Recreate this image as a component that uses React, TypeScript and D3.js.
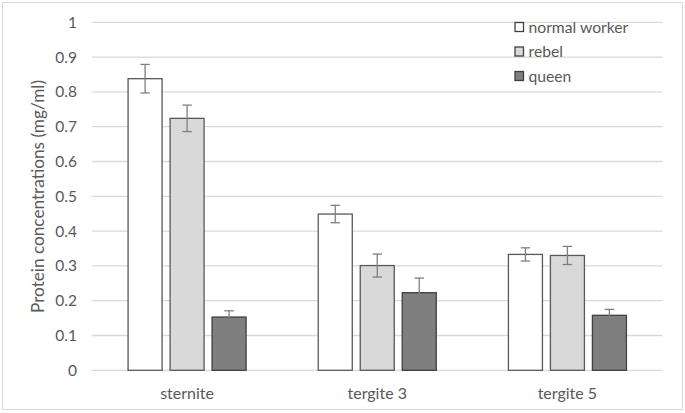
import React from "react";
import * as d3 from "d3";

const categories = ["sternite", "tergite 3", "tergite 5"];
const seriesNames = ["normal worker", "rebel", "queen"];
const normalWorker = [0.838, 0.449, 0.333];
const rebel = [0.724, 0.301, 0.33];
const queen = [0.153, 0.223, 0.158];
const normalWorkerErr = [0.041, 0.025, 0.019];
const rebelErr = [0.038, 0.033, 0.026];
const queenErr = [0.018, 0.042, 0.017];
const yTicks = [0, 0.1, 0.2, 0.3, 0.4, 0.5, 0.6, 0.7, 0.8, 0.9, 1];

const seriesValues = [normalWorker, rebel, queen];
const seriesErrs = [normalWorkerErr, rebelErr, queenErr];
const fills = ["#ffffff", "#d9d9d9", "#7f7f7f"];
const strokes = ["#595959", "#595959", "#404040"];

const W = 685;
const H = 413;
const FONT = "Lato, 'Open Sans', sans-serif";
const TXT = "#595959";

export default function App() {
  const left = 92;
  const right = 662.5;
  const y = d3.scaleLinear().domain([0, 1]).range([370.3, 22.3]);
  const x0 = d3.scaleBand<string>().domain(categories).range([left, right]);
  const groupW = 118;
  const x1 = d3
    .scaleBand<string>()
    .domain(seriesNames)
    .range([0, groupW])
    .paddingInner(0.19);
  const bw = x1.bandwidth();

  return (
    <svg
      width={W}
      height={H}
      style={{ position: "absolute", left: 0, top: 0, background: "#fff" }}
      fontFamily={FONT}
    >
      <rect x={0} y={0} width={W} height={H} fill="#fff" />
      <rect x={2.5} y={2.5} width={680} height={407} fill="none" stroke="#d9d9d9" strokeWidth={1} />
      {yTicks.map((t) => (
        <g key={t}>
          <line x1={left} x2={right} y1={y(t)} y2={y(t)} stroke="#d9d9d9" strokeWidth={1.3} />
          <text x={77} y={y(t)} dy="0.36em" textAnchor="end" fontSize={15.5} fill={TXT}>
            {d3.format("")(t)}
          </text>
        </g>
      ))}
      <text
        transform={`translate(44,196.5) rotate(-90)`}
        textAnchor="middle"
        fontSize={17.2}
        fill={TXT}
      >
        Protein concentrations (mg/ml)
      </text>
      {categories.map((c, ci) => {
        const gx = (x0(c) as number) + (x0.bandwidth() - groupW) / 2;
        return (
          <g key={c}>
            {seriesNames.map((s, si) => {
              const v = seriesValues[si][ci];
              const e = seriesErrs[si][ci];
              const bx = gx + (x1(s) as number);
              const cx = bx + bw / 2;
              return (
                <g key={s}>
                  <rect
                    x={bx}
                    y={y(v)}
                    width={bw}
                    height={y(0) - y(v)}
                    fill={fills[si]}
                    stroke={strokes[si]}
                    strokeWidth={1.3}
                  />
                  <g stroke="#7f7f7f" strokeWidth={1.3}>
                    <line x1={cx} x2={cx} y1={y(v + e)} y2={y(v - e)} />
                    <line x1={cx - 4.7} x2={cx + 4.7} y1={y(v + e)} y2={y(v + e)} />
                    <line x1={cx - 4.7} x2={cx + 4.7} y1={y(v - e)} y2={y(v - e)} />
                  </g>
                </g>
              );
            })}
            <text
              x={(x0(c) as number) + x0.bandwidth() / 2}
              y={393}
              dy="0.36em"
              textAnchor="middle"
              fontSize={16}
              fill={TXT}
            >
              {c}
            </text>
          </g>
        );
      })}
      {seriesNames.map((s, si) => (
        <g key={s} transform={`translate(514.5,${27 + si * 24.5})`}>
          <rect x={0.5} y={-4.5} width={8.5} height={9} fill={fills[si]} stroke="#404040" strokeWidth={1.3} />
          <text x={14} y={0} dy="0.36em" fontSize={15.7} fill={TXT}>
            {s}
          </text>
        </g>
      ))}
    </svg>
  );
}
